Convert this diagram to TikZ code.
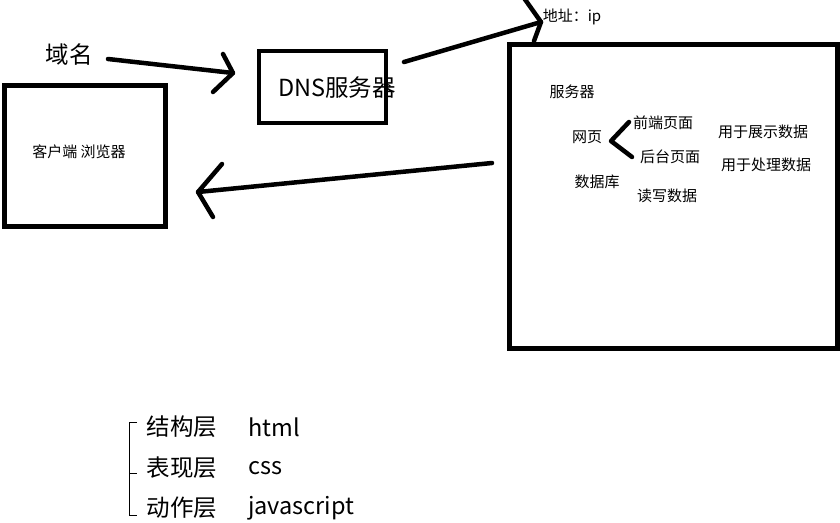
\documentclass[tikz,border=0pt]{standalone}
\usepackage{fontspec}
\setmainfont{Noto Sans CJK SC}

\tikzset{
  pen/.style={line width=4.5pt, line cap=round, line join=round},
  boxline/.style={line width=5pt},
  smalltext/.style={inner sep=0pt, font=\fontsize{15}{18}\selectfont},
  bigtext/.style={inner sep=0pt, font=\fontsize{23.5}{28}\selectfont},
}

\begin{document}
\begin{tikzpicture}[x=1pt,y=-1pt]
    \useasboundingbox (0,0) rectangle (840,522);

    % Client
    \draw[boxline] (4,85.5) rectangle (165.5,226.5);
    \node[smalltext] (client) at (79,152) {客户端 浏览器};

    % Domain name and DNS server
    \node[bigtext] (domain) at (69,55) {域名};
    \draw[boxline, line width=4.5pt] (259,51) rectangle (386,123);
    \node[bigtext] (dns) at (337,88) {DNS服务器};

    % Server
    \draw[boxline] (509.5,44.5) rectangle (837.5,348.5);
    \node[smalltext] (ip) at (572,17) {地址：ip};
    \node[smalltext] (server) at (572,92) {服务器};
    \node[smalltext] (web) at (587,137) {网页};
    \node[smalltext] (front) at (663,123) {前端页面};
    \node[smalltext] (back) at (670,157) {后台页面};
    \node[smalltext] (show) at (763,132) {用于展示数据};
    \node[smalltext] (handle) at (766,165) {用于处理数据};
    \node[smalltext] (db) at (597,182) {数据库};
    \node[smalltext] (rw) at (667,196) {读写数据};
    \draw[pen] (629,122) -- (611,141) -- (632,157);

    % Arrows
    \coordinate (a1s) at (108,59);
    \coordinate (a1t) at (233,73);
    \draw[pen] (a1s) -- (a1t);
    \draw[pen] (223,54) -- (a1t) -- (213,92);

    \coordinate (a2s) at (404,62);
    \coordinate (a2t) at (541,22);
    \draw[pen] (a2s) -- (a2t);
    \draw[pen] (524,-2) -- (a2t) -- (534,41);

    \coordinate (a3s) at (492,163);
    \coordinate (a3t) at (198,192);
    \draw[pen] (a3s) -- (a3t);
    \draw[pen] (222,164) -- (a3t) -- (213,217);

    % Layers
    \draw[line width=1pt] (137,422) -- (129,422) -- (129,515) -- (137,515);
    \draw[line width=1pt] (129,473) -- (137,473);
    \node[bigtext] (struct) at (182,427) {结构层};
    \node[bigtext] (pres) at (182,468) {表现层};
    \node[bigtext] (act) at (182,508) {动作层};
    \node[bigtext, anchor=west] (html) at (248,427) {html};
    \node[bigtext, anchor=west] (css) at (248,468) {css};
    \node[bigtext, anchor=west] (js) at (248,508) {javascript};
\end{tikzpicture}
\end{document}
